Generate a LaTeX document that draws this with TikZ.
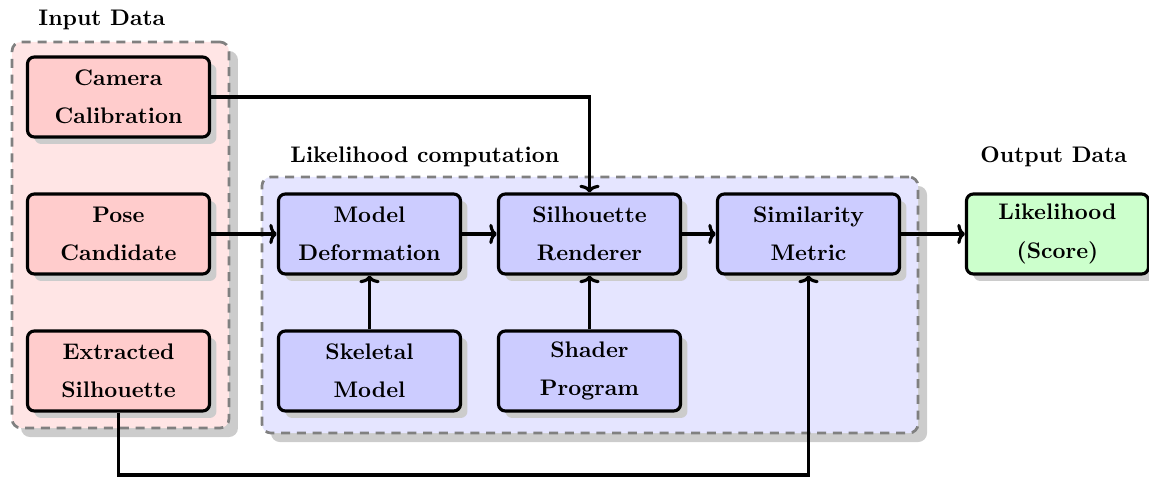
\documentclass[tikz,border=0pt]{standalone}
\usetikzlibrary{shadows,arrows.meta}
\begin{document}
\begin{tikzpicture}[x=0.444pt,y=-0.444pt,
  box/.style={draw=black, line width=1.4pt, rounded corners=3pt,
    minimum width=80.8pt, minimum height=35.5pt, inner sep=0pt,
    align=center, font=\bfseries,
    drop shadow={shadow xshift=3.1pt, shadow yshift=-3.1pt, fill=black!20, opacity=1}},
  inbox/.style={box, fill=red!20},
  procbox/.style={box, fill=blue!20},
  outbox/.style={box, fill=green!20},
  group/.style={draw=black!50, line width=1.2pt, dash pattern=on 4pt off 3pt,
    rounded corners=4pt, inner sep=0pt,
    drop shadow={shadow xshift=4pt, shadow yshift=-4pt, fill=black!20, opacity=1}},
  grouptitle/.style={font=\bfseries, anchor=base west, inner sep=0pt},
  conn/.style={line width=1.4pt, -{To[length=3.4pt,width=9pt]}}
]
\useasboundingbox (0,0) rectangle (1149,477);

% group frames
\node[group, fill=red!10, minimum width=96.3pt, minimum height=171.4pt] (ingrp) at (120.5,235) {};
\node[group, fill=blue!10, minimum width=291.3pt, minimum height=113.7pt] (procgrp) at (590,305) {};

% group titles
\node[grouptitle] (intitle) at (38,25) {Input Data};
\node[grouptitle] (proctitle) at (290,162) {Likelihood computation};
\node[grouptitle] (outtitle) at (980,162) {Output Data};

% input data
\node[inbox] (cam)  at (118.5,97)  {Camera\\[5pt]Calibration};
\node[inbox] (pose) at (118.5,234) {Pose\\[5pt]Candidate};
\node[inbox] (ext)  at (118.5,371) {Extracted\\[5pt]Silhouette};

% likelihood computation
\node[procbox] (model)  at (369.5,234) {Model\\[5pt]Deformation};
\node[procbox] (rend)   at (589.5,234) {Silhouette\\[5pt]Renderer};
\node[procbox] (sim)    at (808.5,234) {Similarity\\[5pt]Metric};
\node[procbox] (skel)   at (369.5,371) {Skeletal\\[5pt]Model};
\node[procbox] (shader) at (589.5,371) {Shader\\[5pt]Program};

% output
\node[outbox] (like) at (1057.5,234) {Likelihood\\[5pt](Score)};

% connectors
\coordinate (lowrun) at (0,475);
\draw[conn] (cam.east) -| (rend.north);
\draw[conn] (pose.east) -- (model.west);
\draw[conn] (model.east) -- (rend.west);
\draw[conn] (rend.east) -- (sim.west);
\draw[conn] (sim.east) -- (like.west);
\draw[conn] (skel.north) -- (model.south);
\draw[conn] (shader.north) -- (rend.south);
\draw[conn] (ext.south) -- (ext.south |- lowrun) -| (sim.south);
\end{tikzpicture}
\end{document}
